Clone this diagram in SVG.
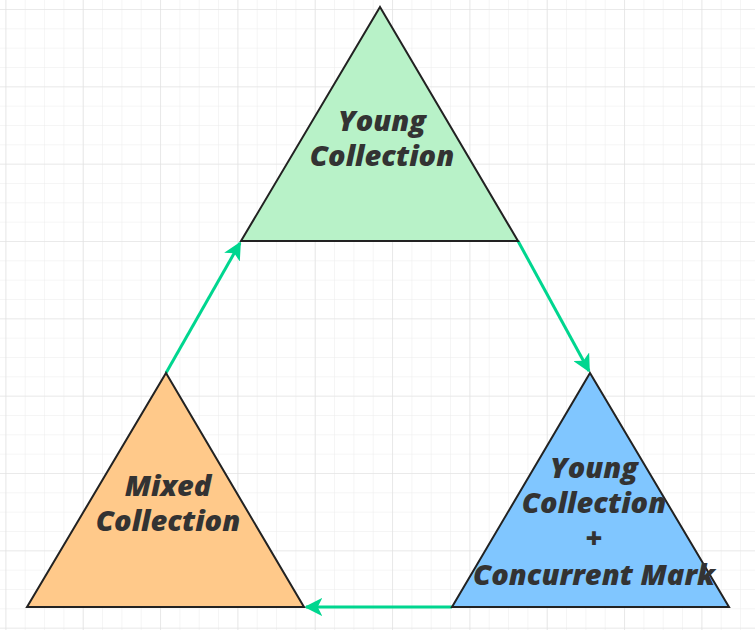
<svg xmlns="http://www.w3.org/2000/svg" width="755" height="630" viewBox="0 0 755 630">
<defs>
<pattern id="minor" x="5.4" y="9" width="19.333" height="19.333" patternUnits="userSpaceOnUse">
<path d="M0 0H19.333M0 0V19.333" fill="none" stroke="#ececec" stroke-width="1"/>
</pattern>
<pattern id="major" x="5.4" y="9" width="77.333" height="77.333" patternUnits="userSpaceOnUse">
<path d="M0 0H77.333M0 0V77.333" fill="none" stroke="#e0e0e0" stroke-width="1.2"/>
</pattern>
<marker id="arr" viewBox="0 0 10 10" refX="9" refY="5" markerWidth="6" markerHeight="6" orient="auto" markerUnits="strokeWidth">
<path d="M0 0L10 5L0 10L2.5 5Z" fill="#00d68f"/>
</marker>
<style>
.tri{stroke:#222;stroke-width:2;stroke-linejoin:miter}
.lbl{font-family:"Open Sans","Noto Sans",sans-serif;font-weight:800;font-style:italic;font-size:29px;fill:#333;text-anchor:middle}
.conn{stroke:#00d68f;stroke-width:3;fill:none}
</style>
</defs>
<rect width="755" height="630" fill="#ffffff"/>
<rect width="755" height="630" fill="url(#minor)"/>
<rect width="755" height="630" fill="url(#major)"/>
<g id="connectors">
<line class="conn" x1="166" y1="373" x2="240" y2="243" marker-end="url(#arr)"/>
<line class="conn" x1="518" y1="241" x2="589" y2="371" marker-end="url(#arr)"/>
<line class="conn" x1="452" y1="607" x2="306" y2="607" marker-end="url(#arr)"/>
</g>
<g id="young">
<polygon class="tri" points="380,7 518,241 241,241" fill="#b8f2c8"/>
<text class="lbl" x="382" y="131">Young</text>
<text class="lbl" x="382" y="166">Collection</text>
</g>
<g id="young-concurrent">
<polygon class="tri" points="590,373 729,607 452,607" fill="#80c6ff"/>
<text class="lbl" x="594" y="478">Young</text>
<text class="lbl" x="594" y="513">Collection</text>
<text class="lbl" x="594" y="548">+</text>
<text class="lbl" x="594" y="585">Concurrent Mark</text>
</g>
<g id="mixed">
<polygon class="tri" points="166,373 304,607 27,607" fill="#ffc98a"/>
<text class="lbl" x="168" y="496">Mixed</text>
<text class="lbl" x="168" y="531">Collection</text>
</g>
</svg>
